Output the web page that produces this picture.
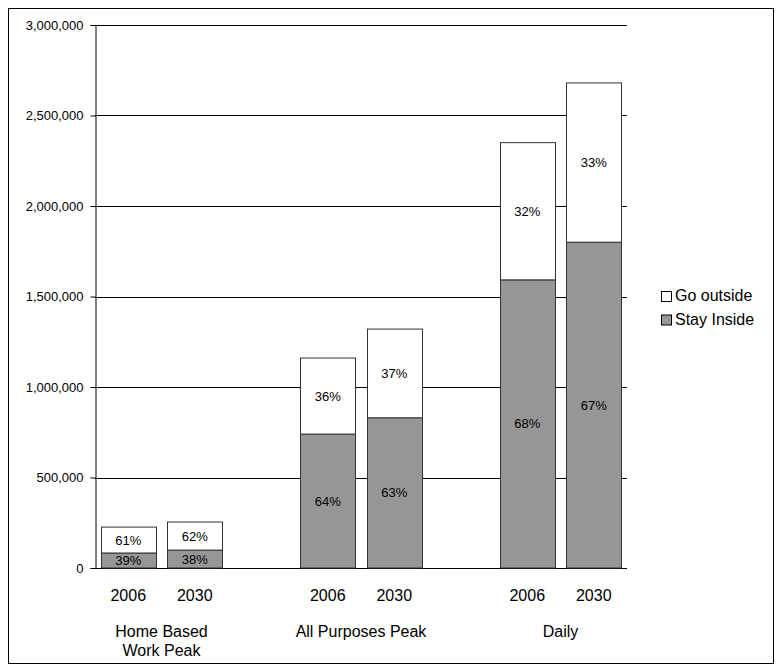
<!DOCTYPE html>
<html>
<head>
<meta charset="utf-8">
<script src="https://cdn.jsdelivr.net/npm/d3@7"></script>
<style>
  body { margin: 0; background: #fff; }
  text { font-family: "Liberation Sans", Arial, sans-serif; fill: #000; }
</style>
</head>
<body>
<div id="wrapper"></div>
<script>
// data
const groups = ['Home Based\nWork Peak', 'All Purposes Peak', 'Daily']
const years = ['2006', '2030']
const stayInside = [83000, 99000, 740000, 830000, 1592000, 1800000]
const goOutside = [143000, 155000, 420000, 490000, 758000, 880000]
const insidePct = ['39%', '38%', '64%', '63%', '68%', '67%']
const outsidePct = ['61%', '62%', '36%', '37%', '32%', '33%']
const yTicks = [0, 500000, 1000000, 1500000, 2000000, 2500000, 3000000]

// slots: two bars per group, one blank slot between groups
const slots = ['g0-2006', 'g0-2030', 'gap1', 'g1-2006', 'g1-2030', 'gap2', 'g2-2006', 'g2-2030']
const barSlots = ['g0-2006', 'g0-2030', 'g1-2006', 'g1-2030', 'g2-2006', 'g2-2030']

const dimensions = {
  width: 782,
  height: 672,
  margin: { top: 25, left: 95 },
  boundedWidth: 532,
  boundedHeight: 543,
}

const svg = d3
  .select('#wrapper')
  .append('svg')
  .attr('width', dimensions.width)
  .attr('height', dimensions.height)

svg
  .append('rect')
  .attr('x', 8.5)
  .attr('y', 8.5)
  .attr('width', 765)
  .attr('height', 655)
  .attr('fill', 'none')
  .attr('stroke', '#000')

const bounds = svg
  .append('g')
  .attr('transform', `translate(${dimensions.margin.left}, ${dimensions.margin.top})`)

const xScale = d3
  .scaleBand()
  .domain(slots)
  .range([0, dimensions.boundedWidth])
  .paddingInner(0.17)
  .paddingOuter(0.085)

const yScale = d3
  .scaleLinear()
  .domain([0, 3000000])
  .range([dimensions.boundedHeight, 0])

// gridlines
bounds
  .selectAll('.grid')
  .data(yTicks.slice(1))
  .enter()
  .append('line')
  .attr('x1', 0)
  .attr('x2', dimensions.boundedWidth)
  .attr('y1', (d) => Math.round(yScale(d)) + 0.5)
  .attr('y2', (d) => Math.round(yScale(d)) + 0.5)
  .attr('stroke', '#000')
  .attr('stroke-width', 1)

// y axis
const yAxis = bounds
  .append('g')
  .attr('transform', 'translate(0.5,0)')
  .call(
    d3
      .axisLeft(yScale)
      .tickValues(yTicks)
      .tickSize(5)
      .tickPadding(7)
      .tickFormat(d3.format(','))
  )
yAxis.select('.domain').attr('stroke', '#000')
yAxis.selectAll('.tick line').attr('stroke', '#000')
yAxis.selectAll('.tick text').style('font-size', '13px')

// x baseline
bounds
  .append('line')
  .attr('x1', 0)
  .attr('x2', dimensions.boundedWidth)
  .attr('y1', dimensions.boundedHeight + 0.5)
  .attr('y2', dimensions.boundedHeight + 0.5)
  .attr('stroke', '#000')

// bars
const bars = bounds
  .selectAll('.bar')
  .data(barSlots.map((s, i) => ({ slot: s, i })))
  .enter()
  .append('g')

bars
  .append('rect')
  .attr('x', (d) => Math.round(xScale(d.slot)) + 0.5)
  .attr('width', Math.round(xScale.bandwidth()))
  .attr('y', (d) => yScale(stayInside[d.i]))
  .attr('height', (d) => dimensions.boundedHeight - yScale(stayInside[d.i]))
  .attr('fill', '#969696')
  .attr('stroke', '#333')

bars
  .append('rect')
  .attr('x', (d) => Math.round(xScale(d.slot)) + 0.5)
  .attr('width', Math.round(xScale.bandwidth()))
  .attr('y', (d) => yScale(stayInside[d.i] + goOutside[d.i]))
  .attr('height', (d) => yScale(stayInside[d.i]) - yScale(stayInside[d.i] + goOutside[d.i]))
  .attr('fill', '#fff')
  .attr('stroke', '#333')

bars
  .append('text')
  .attr('x', (d) => xScale(d.slot) + xScale.bandwidth() / 2)
  .attr('y', (d) => yScale(stayInside[d.i] / 2))
  .attr('dy', '0.35em')
  .attr('text-anchor', 'middle')
  .style('font-size', '13px')
  .text((d) => insidePct[d.i])

bars
  .append('text')
  .attr('x', (d) => xScale(d.slot) + xScale.bandwidth() / 2)
  .attr('y', (d) => yScale(stayInside[d.i] + goOutside[d.i] / 2))
  .attr('dy', '0.35em')
  .attr('text-anchor', 'middle')
  .style('font-size', '13px')
  .text((d) => outsidePct[d.i])

// year labels
bounds
  .selectAll('.year')
  .data(barSlots)
  .enter()
  .append('text')
  .attr('x', (d) => xScale(d) + xScale.bandwidth() / 2)
  .attr('y', dimensions.boundedHeight + 33)
  .attr('text-anchor', 'middle')
  .style('font-size', '16px')
  .text((d, i) => years[i % 2])

// group labels
groups.forEach((g, gi) => {
  const first = xScale(barSlots[gi * 2])
  const last = xScale(barSlots[gi * 2 + 1]) + xScale.bandwidth()
  const t = bounds
    .append('text')
    .attr('x', (first + last) / 2)
    .attr('y', dimensions.boundedHeight + 69)
    .attr('text-anchor', 'middle')
    .style('font-size', '16px')
  g.split('\n').forEach((line, li) => {
    t.append('tspan')
      .attr('x', (first + last) / 2)
      .attr('dy', li === 0 ? 0 : 19)
      .text(line)
  })
})

// legend
const legendItems = [
  { label: 'Go outside', fill: '#fff' },
  { label: 'Stay Inside', fill: '#969696' },
]
const legend = svg
  .append('g')
  .attr('transform', 'translate(661, 291)')
legendItems.forEach((item, i) => {
  legend
    .append('rect')
    .attr('x', 0.5)
    .attr('y', i * 23.5 + 0.5)
    .attr('width', 10)
    .attr('height', 10)
    .attr('fill', item.fill)
    .attr('stroke', '#000')
  legend
    .append('text')
    .attr('x', 14)
    .attr('y', i * 23.5 + 10)
    .style('font-size', '16px')
    .text(item.label)
})
</script>
</body>
</html>
